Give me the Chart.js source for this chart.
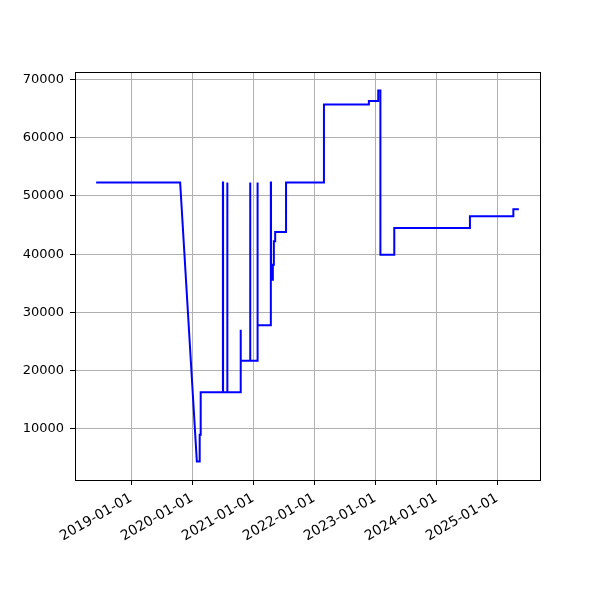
<!DOCTYPE html>
<html>
<head>
<meta charset="utf-8">
<script src="https://cdn.jsdelivr.net/npm/chart.js@4/dist/chart.umd.min.js"></script>
<style>
  html, body { margin: 0; padding: 0; background: #fff; }
  #wrap { width: 600px; height: 600px; }
</style>
</head>
<body>
<div id="wrap"><canvas id="lineChart" width="600" height="600"></canvas></div>
<script>
// one entry per corner of the line
const dates = [
  "2018-06-06", "2019-10-22", "2020-01-30", "2020-02-16", "2020-02-16",
  "2020-02-22", "2020-02-22", "2020-07-04", "2020-07-04", "2020-07-05",
  "2020-07-05", "2020-07-30", "2020-07-30", "2020-07-31", "2020-07-31",
  "2020-10-18", "2020-10-18", "2020-10-19", "2020-10-19", "2020-12-14",
  "2020-12-14", "2020-12-15", "2020-12-15", "2021-01-27", "2021-01-27",
  "2021-01-28", "2021-01-28", "2021-04-17", "2021-04-17", "2021-04-18",
  "2021-04-18", "2021-04-29", "2021-04-29", "2021-05-05", "2021-05-05",
  "2021-05-13", "2021-05-13", "2021-07-17", "2021-07-17", "2022-03-01",
  "2022-03-01", "2022-11-25", "2022-11-25", "2023-01-20", "2023-01-20",
  "2023-02-02", "2023-02-02", "2023-04-26", "2023-04-26", "2024-07-22",
  "2024-07-22", "2025-04-08", "2025-04-08", "2025-05-11"
];
const values = [
  52300, 52300, 4400, 4400, 9000,
  9000, 16300, 16300, 52300, 52300,
  16300, 16300, 52300, 52300, 16300,
  16300, 27000, 27000, 21700, 21700,
  52300, 52300, 21700, 21700, 52300,
  52300, 27800, 27800, 52300, 52300,
  35600, 35600, 38200, 38200, 42200,
  42200, 43800, 43800, 52300, 52300,
  65700, 65700, 66300, 66300, 68100,
  68100, 39900, 39900, 44500, 44500,
  46500, 46500, 47700, 47700
];
const xTickLabels = ["2019-01-01", "2020-01-01", "2021-01-01", "2022-01-01", "2023-01-01", "2024-01-01", "2025-01-01"];
const yTickValues = [10000, 20000, 30000, 40000, 50000, 60000, 70000];

function toMs(s) {
  const p = s.split("-").map(Number);
  return Date.UTC(p[0], p[1] - 1, p[2]);
}

const points = dates.map((d, i) => ({ x: toMs(d), y: values[i] }));

// matplotlib style 5% margins
const xs = points.map((p) => p.x);
const ys = points.map((p) => p.y);
const xMinD = Math.min(...xs), xMaxD = Math.max(...xs);
const yMinD = Math.min(...ys), yMaxD = Math.max(...ys);
const xPad = (xMaxD - xMinD) * 0.05;
const yPad = (yMaxD - yMinD) * 0.05;

const frame = {
  id: "frame",
  afterDraw(chart) {
    const a = chart.chartArea;
    const c = chart.ctx;
    c.save();
    c.strokeStyle = "#000";
    c.lineWidth = 1;
    c.strokeRect(Math.round(a.left) + 0.5, Math.round(a.top) + 0.5,
      Math.round(a.right - a.left), Math.round(a.bottom - a.top));
    c.restore();
  },
};

const ctx = document.getElementById("lineChart").getContext("2d");
const myChart = new Chart(ctx, {
  type: "line",
  data: {
    datasets: [
      {
        data: points,
        borderColor: "#0000ff",
        borderWidth: 2,
        pointRadius: 0,
        tension: 0,
        fill: false,
      },
    ],
  },
  options: {
    responsive: false,
    animation: false,
    layout: { padding: { top: 72, right: 60, left: 0, bottom: 0 } },
    plugins: {
      legend: { display: false },
      tooltip: { enabled: false },
    },
    scales: {
      x: {
        type: "linear",
        min: xMinD - xPad,
        max: xMaxD + xPad,
        afterBuildTicks: (scale) => {
          scale.ticks = xTickLabels.map((s) => ({ value: toMs(s) }));
        },
        afterFit: (scale) => {
          scale.height = 120;
        },
        ticks: {
          color: "#000",
          font: { family: "DejaVu Sans", size: 13.9 },
          minRotation: 30,
          maxRotation: 30,
          padding: 5,
          callback: (v) => new Date(v).toISOString().slice(0, 10),
        },
        grid: {
          color: "#b0b0b0",
          lineWidth: 1,
          tickColor: "#000",
          tickLength: 5,
        },
        border: { display: true, color: "#000", width: 1 },
      },
      y: {
        type: "linear",
        min: yMinD - yPad,
        max: yMaxD + yPad,
        afterBuildTicks: (scale) => {
          scale.ticks = yTickValues.map((v) => ({ value: v }));
        },
        afterFit: (scale) => {
          scale.width = 75;
        },
        ticks: {
          color: "#000",
          font: { family: "DejaVu Sans", size: 13 },
          padding: 6,
          callback: (v) => String(v),
        },
        grid: {
          color: "#b0b0b0",
          lineWidth: 1,
          tickColor: "#000",
          tickLength: 5,
        },
        border: { display: true, color: "#000", width: 1 },
      },
    },
  },
  plugins: [frame],
});
</script>
</body>
</html>
